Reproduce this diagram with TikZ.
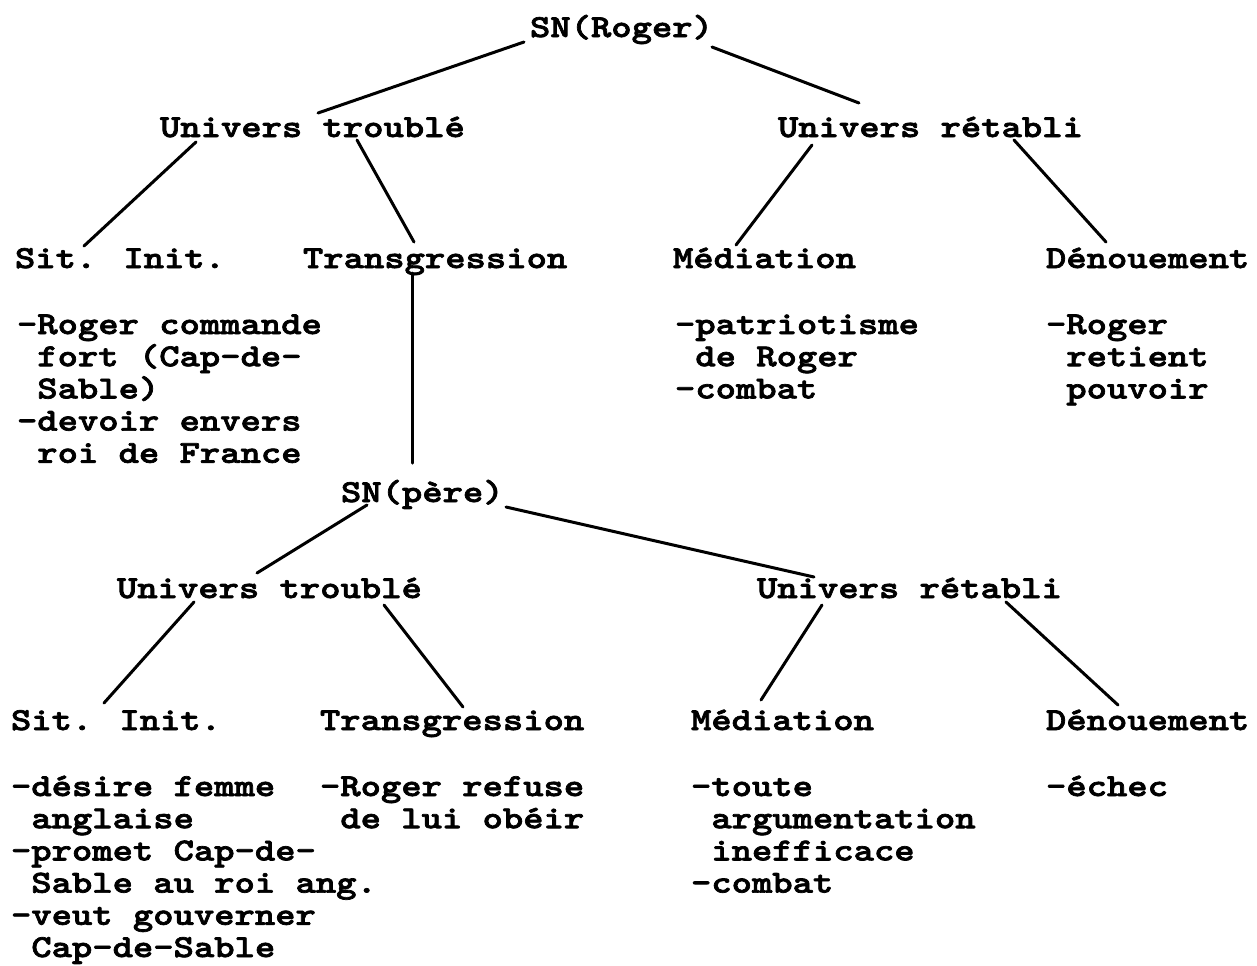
\documentclass[tikz,border=0pt]{standalone}
\usepackage{fontspec}
% dark typewriter face, widened to a Courier-like pitch and thickened
\newfontfamily\typewriter{lmmonolt10-bold.otf}[FakeStretch=1.21,FakeBold=2.2]
\newcommand\typeface{\typewriter\fontsize{16}{16.1}\selectfont
  \lineskiplimit=-20pt\relax\lineskip=0pt\relax}
% tall invisible rule so the first line of a block has a fixed height
\newcommand\lnstrut{\rule{0pt}{14pt}}
\newcommand\hangsp{\phantom{-}}
\begin{document}
\begin{tikzpicture}[x=0.5pt,y=-0.5pt,
  every node/.style={inner sep=0pt, outer sep=0pt, font=\typeface},
  heading/.style={anchor=base west},
  body/.style={anchor=north west, align=left},
  link/.style={line width=1.5pt, line cap=round}]
\useasboundingbox (0,0) rectangle (1257,965);

% ---- upper narrative sequence
\node[heading] (rog) at (530,37) {SN(Roger)};
\node[heading] (ut1) at (160,137) {Univers troublé};
\node[heading] (ur1) at (778,137) {Univers rétabli};
\node[heading] (si1) at (15,268) {Sit. Init.};
\node[heading] (tr1) at (303,268) {Transgression};
\node[heading] (me1) at (673,268) {Médiation};
\node[heading] (de1) at (1046,268) {Dénouement};

\node[body] (si1b) at (17,306) {\lnstrut-Roger commande\\\hangsp fort (Cap-de-\\\hangsp Sable)\\-devoir envers\\\hangsp roi de France};
\node[body] (me1b) at (675,306) {\lnstrut-patriotisme\\\hangsp de Roger\\-combat};
\node[body] (de1b) at (1046,306) {\lnstrut-Roger\\\hangsp retient\\\hangsp pouvoir};

% ---- embedded narrative sequence
\node[heading] (pere) at (341,502) {SN(père)};
\node[heading] (ut2) at (117,598) {Univers troublé};
\node[heading] (ur2) at (757,598) {Univers rétabli};
\node[heading] (si2) at (11,730) {Sit. Init.};
\node[heading] (tr2) at (320,730) {Transgression};
\node[heading] (me2) at (691,730) {Médiation};
\node[heading] (de2) at (1046,730) {Dénouement};

\node[body] (si2b) at (11,768) {\lnstrut-désire femme\\\hangsp anglaise\\-promet Cap-de-\\\hangsp Sable au roi ang.\\-veut gouverner\\\hangsp Cap-de-Sable};
\node[body] (tr2b) at (320,768) {\lnstrut-Roger refuse\\\hangsp de lui obéir};
\node[body] (me2b) at (691,768) {\lnstrut-toute\\\hangsp argumentation\\\hangsp inefficace\\-combat};
\node[body] (de2b) at (1046,768) {\lnstrut-échec};

% ---- branches
\draw[link] ([shift={(-6,5)}]rog.base west) -- ([shift={(158,-24)}]ut1.base west);
\draw[link] ([shift={(182,10)}]rog.base west) -- ([shift={(81,-34)}]ur1.base west);
\draw[link] ([shift={(36,5)}]ut1.base west) -- ([shift={(69,-22)}]si1.base west);
\draw[link] ([shift={(197,3)}]ut1.base west) -- ([shift={(111,-26)}]tr1.base west);
\draw[link] ([shift={(34,8)}]ur1.base west) -- ([shift={(63,-23)}]me1.base west);
\draw[link] ([shift={(236,3)}]ur1.base west) -- ([shift={(60,-26)}]de1.base west);
\draw[link] ([shift={(109,5)}]tr1.base west) -- ([shift={(71,-39)}]pere.base west);
\draw[link] ([shift={(26,3)}]pere.base west) -- ([shift={(140,-25)}]ut2.base west);
\draw[link] ([shift={(165,5)}]pere.base west) -- ([shift={(57,-21)}]ur2.base west);
\draw[link] ([shift={(77,4)}]ut2.base west) -- ([shift={(93,-27)}]si2.base west);
\draw[link] ([shift={(267,7)}]ut2.base west) -- ([shift={(143,-23)}]tr2.base west);
\draw[link] ([shift={(65,7)}]ur2.base west) -- ([shift={(70,-30)}]me2.base west);
\draw[link] ([shift={(249,4)}]ur2.base west) -- ([shift={(72,-25)}]de2.base west);
\end{tikzpicture}
\end{document}
